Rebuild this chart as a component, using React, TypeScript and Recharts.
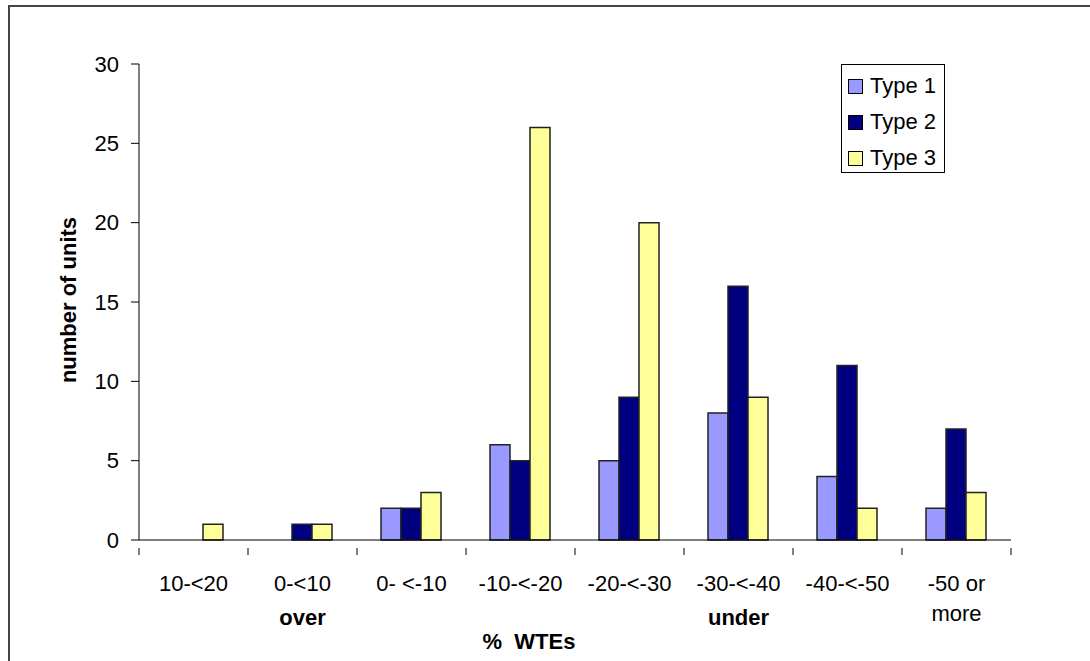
import { BarChart, Bar, XAxis, YAxis, Customized } from "recharts"

const CATEGORIES = ["10-<20", "0-<10", "0- <-10", "-10-<-20", "-20-<-30", "-30-<-40", "-40-<-50", "-50 or|more"]
const GROUP_LABELS = ["", "over", "", "", "", "under", "", ""]
const TYPE1 = [0, 0, 2, 6, 5, 8, 4, 2]
const TYPE2 = [0, 1, 2, 5, 9, 16, 11, 7]
const TYPE3 = [1, 1, 3, 26, 20, 9, 2, 3]
const Y_TICKS = [0, 5, 10, 15, 20, 25, 30]

const SERIES = [
  { key: "type1", name: "Type 1", color: "#9999ff" },
  { key: "type2", name: "Type 2", color: "#000080" },
  { key: "type3", name: "Type 3", color: "#ffff99" },
]

const FONT = "'Liberation Sans', Arial, sans-serif"
const W = 1090
const H = 661
const MARGIN = { top: 64, right: 79, bottom: 0, left: 0 }
const Y_AXIS_W = 139
const BAND = (W - MARGIN.left - MARGIN.right - Y_AXIS_W) / CATEGORIES.length

const data = CATEGORIES.map((cat, i) => ({
  cat,
  type1: TYPE1[i],
  type2: TYPE2[i],
  type3: TYPE3[i],
}))

// category label, optional second line, "over"/"under" group label and
// the tick marks that sit on the category boundaries
function CategoryTick(props: any) {
  const { x, y, payload, index } = props
  const [line1, line2] = String(payload.value).split("|")
  const group = GROUP_LABELS[index]
  const half = BAND / 2
  return (
    <g>
      <line x1={x - half} x2={x - half} y1={y} y2={y + 7} stroke="#000" />
      {index === CATEGORIES.length - 1 && (
        <line x1={x + half} x2={x + half} y1={y} y2={y + 7} stroke="#000" />
      )}
      <text x={x} y={y + 43} textAnchor="middle" fontSize={22} fontFamily={FONT} fill="#000">
        {line1}
      </text>
      {line2 && (
        <text x={x} y={y + 73} textAnchor="middle" fontSize={22} fontFamily={FONT} fill="#000">
          {line2}
        </text>
      )}
      {group && (
        <text x={x} y={y + 77} textAnchor="middle" fontSize={22} fontWeight="bold" fontFamily={FONT} fill="#000">
          {group}
        </text>
      )}
    </g>
  )
}

function LegendBox() {
  return (
    <div
      style={{
        position: "absolute",
        left: 841,
        top: 64,
        width: 104,
        height: 109,
        border: "1px solid #000",
        boxSizing: "border-box",
        background: "#fff",
        paddingTop: 3,
      }}
    >
      {SERIES.map((s) => (
        <div key={s.key} style={{ display: "flex", alignItems: "center", height: 36, paddingLeft: 6 }}>
          <span
            style={{
              width: 15,
              height: 15,
              background: s.color,
              border: "1px solid #000",
              boxSizing: "border-box",
              marginRight: 7,
            }}
          />
          <span style={{ fontSize: 22, fontFamily: FONT, color: "#000", lineHeight: "22px" }}>{s.name}</span>
        </div>
      ))}
    </div>
  )
}

function AxisTitles() {
  return (
    <g>
      <text
        x={529}
        y={649}
        textAnchor="middle"
        fontSize={22}
        fontWeight="bold"
        fontFamily={FONT}
        fill="#000"
        style={{ whiteSpace: "pre" }}
      >
        {"%  WTEs"}
      </text>
      <text
        transform="translate(76,300) rotate(-90)"
        textAnchor="middle"
        fontSize={22}
        fontWeight="bold"
        fontFamily={FONT}
        fill="#000"
      >
        number of units
      </text>
    </g>
  )
}

export default function App() {
  return (
    <div style={{ position: "absolute", left: 0, top: 0, width: W, height: H, background: "#fff", overflow: "hidden" }}>
      <div
        style={{
          position: "absolute",
          left: 8,
          top: 5,
          width: W,
          height: H,
          borderLeft: "2px solid #444",
          borderTop: "2px solid #444",
        }}
      />
      <div style={{ position: "absolute", left: 0, top: 0 }}>
        <BarChart width={W} height={H} data={data} margin={MARGIN} barCategoryGap={24} barGap={0}>
          <XAxis
            dataKey="cat"
            interval={0}
            height={121}
            tickLine={false}
            axisLine={{ stroke: "#000" }}
            tick={<CategoryTick />}
          />
          <YAxis
            width={Y_AXIS_W}
            domain={[0, 30]}
            ticks={Y_TICKS}
            interval={0}
            tickSize={8}
            tickMargin={12}
            axisLine={{ stroke: "#000" }}
            tickLine={{ stroke: "#000" }}
            tick={{ fontSize: 22, fontFamily: FONT, fill: "#000" }}
          />
          {SERIES.map((s) => (
            <Bar
              key={s.key}
              dataKey={s.key}
              name={s.name}
              fill={s.color}
              stroke="#222"
              strokeWidth={1.5}
              isAnimationActive={false}
            />
          ))}
          <Customized component={AxisTitles} />
        </BarChart>
      </div>
      <LegendBox />
    </div>
  )
}
